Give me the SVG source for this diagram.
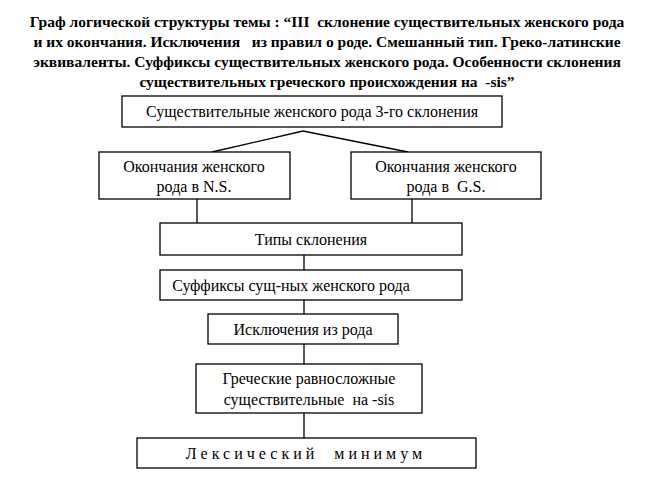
<svg xmlns="http://www.w3.org/2000/svg" width="654" height="480" viewBox="0 0 654 480" xml:space="preserve">
<style>
.t{font-family:"Liberation Serif","DejaVu Serif",serif;font-size:15.5px;font-weight:bold;text-anchor:middle;fill:#000;white-space:pre}
.n rect{fill:#fff;stroke:#000;stroke-width:1.3}
.n text{font-family:"Liberation Serif","DejaVu Serif",serif;font-size:16px;text-anchor:middle;fill:#000;white-space:pre}
.c line{stroke:#000;stroke-width:1.3}
</style>
<rect width="654" height="480" fill="#fff"/>
<g id="title">
<text class="t" x="327" y="27">Граф логической структуры темы : “III  склонение существительных женского рода</text>
<text class="t" x="327" y="47">и их окончания. Исключения   из правил о роде. Смешанный тип. Греко-латинские</text>
<text class="t" x="327" y="67">эквиваленты. Суффиксы существительных женского рода. Особенности склонения</text>
<text class="t" x="327" y="87">существительных греческого происхождения на  -sis”</text>
</g>
<g class="c" id="connectors">
<line x1="303" y1="131" x2="212" y2="152"/>
<line x1="303" y1="131" x2="408" y2="152"/>
<line x1="197" y1="199" x2="197" y2="223"/>
<line x1="412" y1="199" x2="412" y2="223"/>
<line x1="304" y1="255" x2="304" y2="270"/>
<line x1="304" y1="300" x2="304" y2="314"/>
<line x1="304" y1="344" x2="304" y2="364"/>
<line x1="304" y1="413" x2="304" y2="438"/>
</g>
<g class="n" id="n1"><rect x="122" y="96" width="380" height="31"/><text x="312" y="117">Существительные женского рода 3-го склонения</text></g>
<g class="n" id="n2"><rect x="99" y="152" width="191" height="47"/><text x="194" y="172">Окончания женского</text><text x="194" y="192">рода в N.S.</text></g>
<g class="n" id="n3"><rect x="351" y="152" width="190" height="47"/><text x="446" y="172">Окончания женского</text><text x="446" y="192">рода в  G.S.</text></g>
<g class="n" id="n4"><rect x="160" y="223" width="302" height="32"/><text x="311" y="245">Типы склонения</text></g>
<g class="n" id="n5"><rect x="160" y="270" width="302" height="30"/><text x="291" y="291">Суффиксы сущ-ных женского рода</text></g>
<g class="n" id="n6"><rect x="208" y="314" width="190" height="30"/><text x="303" y="335">Исключения из рода</text></g>
<g class="n" id="n7"><rect x="196" y="364" width="226" height="49"/><text x="309" y="384">Греческие равносложные</text><text x="309" y="405">существительные  на -sis</text></g>
<g class="n" id="n8"><rect x="137" y="438" width="339" height="30"/><text x="306" y="459" style="letter-spacing:4px">Лексический  минимум</text></g>
</svg>
